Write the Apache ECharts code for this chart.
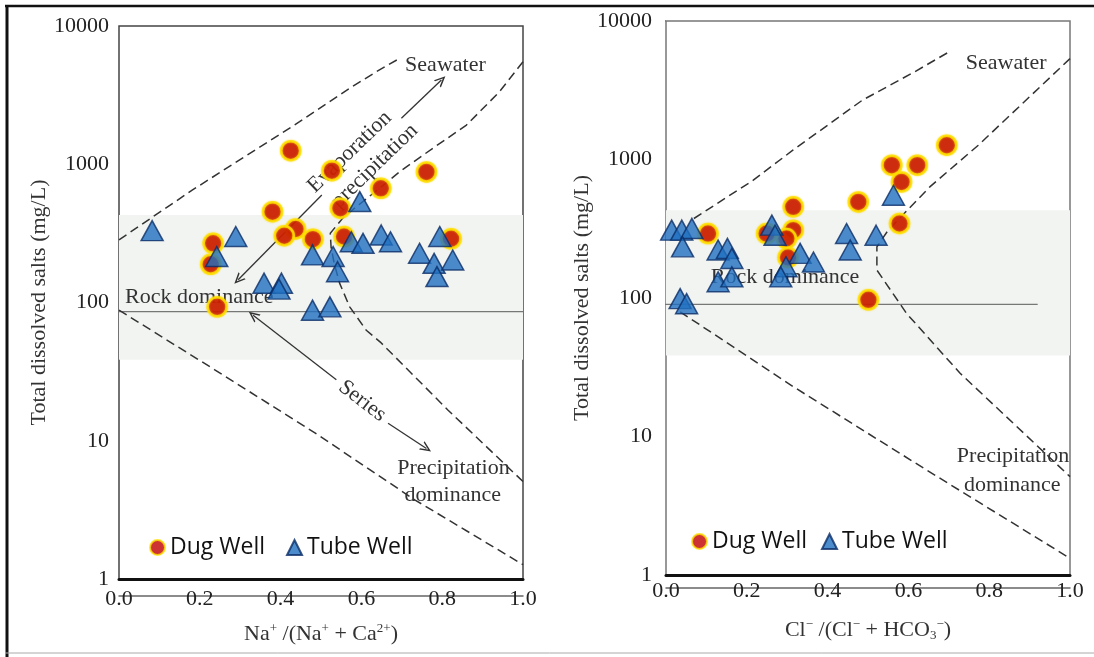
<!DOCTYPE html>
<html>
<head>
<meta charset="utf-8">
<script src="https://cdn.jsdelivr.net/npm/echarts@6/dist/echarts.min.js"></script>
<style>
html,body{margin:0;padding:0;background:#fff}
#main{width:1094px;height:657px}
</style>
</head>
<body>
<div id="main"></div>
<script>
// Gibbs plot, left: Na+/(Na+ + Ca2+), right: Cl-/(Cl- + HCO3-)
var xTicks = [0, 0.2, 0.4, 0.6, 0.8, 1.0];
var yTicks = [1, 10, 100, 1000, 10000];

// dug wells (circles)
var dugNaX = [0.425, 0.380, 0.437, 0.409, 0.480, 0.233, 0.227, 0.243, 0.527, 0.648, 0.761, 0.548, 0.557, 0.822];
var dugNaY = [1254, 454, 340, 304, 287, 268, 189, 93, 899, 670, 880, 481, 300, 289];
var dugClX = [0.104, 0.315, 0.249, 0.315, 0.298, 0.302, 0.695, 0.559, 0.622, 0.583, 0.476, 0.578, 0.501];
var dugClY = [292, 455, 292, 309, 269, 196, 1268, 910, 910, 689, 494, 345, 97];

// tube wells (triangles)
var tubeNaX = [0.082, 0.289, 0.242, 0.359, 0.402, 0.396, 0.479, 0.479, 0.596, 0.575, 0.604, 0.649, 0.672, 0.530, 0.541, 0.744, 0.794, 0.780, 0.826, 0.787, 0.522];
var tubeNaY = [331, 300, 215, 138, 138, 125, 221, 88, 537, 275, 268, 308, 275, 215, 167, 227, 300, 192, 203, 154, 93];
var tubeClX = [0.014, 0.039, 0.064, 0.041, 0.129, 0.152, 0.163, 0.129, 0.163, 0.035, 0.051, 0.262, 0.270, 0.332, 0.365, 0.297, 0.284, 0.447, 0.456, 0.520, 0.563];
var tubeClY = [309, 309, 318, 234, 222, 228, 193, 131, 142, 99, 91, 336, 284, 210, 182, 168, 142, 292, 222, 284, 552];

// Gibbs boundary curves
var naUpper = [[0, 284], [0.182, 652], [0.447, 2030], [0.571, 3550], [0.637, 4670], [0.695, 5840]];
var naRight = [[1.0, 5520], [0.942, 3350], [0.86, 1920], [0.777, 1306], [0.695, 884], [0.645, 670], [0.557, 418], [0.523, 317],
               [0.525, 250], [0.533, 190], [0.546, 138], [0.571, 93], [0.612, 63], [0.649, 51], [0.814, 16.7], [1.0, 5.07]];
var naLower = [[0, 88], [0.237, 32.6], [0.485, 11.4], [0.732, 3.74], [1.0, 1.27]];
var clUpper = [[0.069, 375], [0.216, 709], [0.314, 1167], [0.486, 2680], [0.615, 4290], [0.700, 5970]];
var clRight = [[1.0, 5350], [0.773, 1268], [0.653, 634], [0.550, 309], [0.522, 234], [0.522, 159], [0.596, 77], [0.728, 28.6], [1.0, 5.13]];
var clLower = [[0.035, 79.5], [0.315, 22.9], [0.645, 5.73], [1.0, 1.32]];

// rock dominance line and shaded band
var naRockLine = [[0, 86], [1, 86]];
var clRockLine = [[-0.045, 90], [0.92, 90]];
var clTopTick = [[-0.04, 10000], [0, 10000]];
var bandRange = [38.5, 430];

function pts(xs, ys) {
    return xs.map(function (x, i) { return [x, ys[i]]; });
}

var serif = 'Liberation Serif';
var arrowHead = 'path://M0,10 L5,0 L10,10 L8.4,10 L5,3.2 L1.6,10 Z';

var dugStyle = {color: '#c00000', borderColor: '#ffe100', borderWidth: 2.5, shadowBlur: 2, shadowColor: 'rgba(255,215,0,0.9)'};
var tubeStyle = {color: '#1f6fc0', borderColor: '#0b2d66', borderWidth: 1.5};
var dashStyle = {color: '#333', width: 1.5, type: [9, 5]};

function textPt(x, y, text, rotate, align) {
    return {
        coord: [x, y],
        label: {formatter: text, rotate: rotate || 0, position: align === 'left' ? 'right' : 'inside', distance: 0}
    };
}

function helper(xi, yi, arrows, texts) {
    return {
        type: 'line', xAxisIndex: xi, yAxisIndex: yi, data: [], z: 1, silent: true,
        markArea: {
            silent: true,
            itemStyle: {color: '#f2f4f2'},
            data: [[{coord: [0, bandRange[0]]}, {coord: [1, bandRange[1]]}]]
        },
        markLine: {
            silent: true, symbol: ['none', 'none'],
            lineStyle: {color: '#333', width: 1.3, type: 'solid'},
            label: {show: false},
            data: arrows
        },
        markPoint: {
            silent: true, symbol: 'circle', symbolSize: 0,
            label: {show: true, fontFamily: serif, fontSize: 22, color: '#333'},
            data: texts
        }
    };
}

function arrow(a, b, headAtStart) {
    return [
        {coord: a, symbol: headAtStart ? arrowHead : 'none', symbolSize: [10, 11]},
        {coord: b, symbol: headAtStart ? 'none' : arrowHead, symbolSize: [10, 11]}
    ];
}

function lineSeries(xi, yi, data, style, clip) {
    return {type: 'line', xAxisIndex: xi, yAxisIndex: yi, data: data, symbol: 'none', z: 2,
            lineStyle: style, clip: clip !== false, silent: true};
}

function scatter(name, xi, yi, data, symbol, size, style) {
    return {name: name, type: 'scatter', xAxisIndex: xi, yAxisIndex: yi, data: data,
            symbol: symbol, symbolSize: size, itemStyle: style, z: 10};
}

var naArrows = [
    arrow([0.295, 146], [0.502, 600], true),
    arrow([0.699, 2150], [0.798, 4070], false),
    arrow([0.332, 81], [0.538, 27.6], true),
    arrow([0.666, 13.4], [0.761, 8.8], false)
];
var naTexts = [
    textPt(0.808, 5224, 'Seawater'),
    textPt(0.571, 1227, 'Evaporation', 44),
    textPt(0.633, 972, 'precipitation', 44),
    textPt(0.015, 110, 'Rock dominance', 0, 'left'),
    textPt(0.602, 19.4, 'Series', -37.6),
    textPt(0.828, 6.34, 'Precipitation'),
    textPt(0.826, 4.06, 'dominance')
];
var clTexts = [
    textPt(0.842, 4930, 'Seawater'),
    textPt(0.111, 142, 'Rock dominance', 0, 'left'),
    textPt(0.859, 7.15, 'Precipitation'),
    textPt(0.857, 4.47, 'dominance')
];

var tickFont = {fontFamily: serif, fontSize: 22, color: '#222'};

function xAxisLabels(gi, offset, name, gap) {
    return {
        type: 'value', gridIndex: gi, min: 0, max: 1, interval: 0.2, position: 'bottom', offset: offset,
        axisLine: {show: true, lineStyle: {color: '#666', width: 1.5}},
        axisTick: {show: false}, splitLine: {show: false},
        axisLabel: Object.assign({margin: -8, formatter: function (v) { return v.toFixed(1); }}, tickFont),
        name: name, nameLocation: 'middle', nameGap: gap,
        nameTextStyle: {
            fontFamily: serif, fontSize: 22, color: '#333',
            rich: {
                n: {fontFamily: serif, fontSize: 22, color: '#333'},
                s: {fontFamily: serif, fontSize: 13, color: '#333', padding: [0, 0, 12, 0]},
                b: {fontFamily: serif, fontSize: 13, color: '#333', padding: [10, 0, 0, 0]}
            }
        }
    };
}

function xAxisBorder(gi) {
    return {
        type: 'value', gridIndex: gi, min: 0, max: 1, position: 'bottom',
        axisLine: {show: true, lineStyle: {color: '#111', width: 3}},
        axisTick: {show: false}, axisLabel: {show: false}, splitLine: {show: false}
    };
}

function yAxisLog(gi, margin, gap) {
    return {
        type: 'log', logBase: 10, gridIndex: gi, min: 1, max: 10000,
        axisLine: {show: false}, axisTick: {show: false}, splitLine: {show: false},
        axisLabel: Object.assign({margin: margin, formatter: function (v) { return String(v); }}, tickFont),
        name: 'Total dissolved salts (mg/L)', nameLocation: 'middle', nameGap: gap,
        nameTextStyle: {fontFamily: serif, fontSize: 22, color: '#333'}
    };
}

var legendData = [{name: 'Dug Well', icon: 'circle'}, {name: 'Tube Well', icon: 'triangle'}];
var legendText = {fontFamily: 'Open Sans', fontSize: 23, color: '#111'};

var option = {
    animation: false,
    backgroundColor: '#fff',
    grid: [
        {left: 119, top: 26, width: 404, height: 553, show: true, borderColor: '#444', borderWidth: 1.5, backgroundColor: 'transparent'},
        {left: 666, top: 21, width: 404, height: 554, show: true, borderColor: '#777', borderWidth: 1.5, backgroundColor: 'transparent'}
    ],
    xAxis: [
        xAxisLabels(0, 17, '{n|Na}{s|+}{n| /(Na}{s|+}{n| + Ca}{s|2+}{n|)}', 26),
        xAxisBorder(0),
        xAxisLabels(1, 13, '{n|Cl}{s|\u2212}{n| /(Cl}{s|\u2212}{n| + HCO}{b|3}{s|\u2212}{n|)}', 30),
        xAxisBorder(1)
    ],
    yAxis: [yAxisLog(0, 10, 65), yAxisLog(1, 14, 64)],
    legend: [
        {left: 144, top: 531, itemWidth: 15, itemHeight: 15, itemGap: 21, selectedMode: false,
         textStyle: legendText, data: legendData},
        {left: 686, top: 525, itemWidth: 15, itemHeight: 15, itemGap: 14, selectedMode: false,
         textStyle: legendText, data: legendData}
    ],
    graphic: [
        {type: 'line', shape: {x1: 7, y1: 5, x2: 7, y2: 657}, style: {stroke: '#111', lineWidth: 3}},
        {type: 'line', shape: {x1: 5, y1: 6, x2: 1094, y2: 6}, style: {stroke: '#111', lineWidth: 2.5}},
        {type: 'line', shape: {x1: 5, y1: 653, x2: 1094, y2: 653}, style: {stroke: '#aaa', lineWidth: 1}}
    ],
    series: [
        helper(0, 0, naArrows, naTexts),
        lineSeries(0, 0, naRockLine, {color: '#777', width: 1.3}),
        lineSeries(0, 0, naUpper, dashStyle),
        lineSeries(0, 0, naRight, dashStyle),
        lineSeries(0, 0, naLower, dashStyle),
        scatter('Dug Well', 0, 0, pts(dugNaX, dugNaY), 'circle', 19, dugStyle),
        scatter('Tube Well', 0, 0, pts(tubeNaX, tubeNaY), 'triangle', [22, 20], tubeStyle),

        helper(2, 1, [], clTexts),
        lineSeries(2, 1, clRockLine, {color: '#777', width: 1.3}, false),
        lineSeries(2, 1, clTopTick, {color: '#777', width: 1.3}, false),
        lineSeries(2, 1, clUpper, dashStyle),
        lineSeries(2, 1, clRight, dashStyle),
        lineSeries(2, 1, clLower, dashStyle),
        scatter('Dug Well', 2, 1, pts(dugClX, dugClY), 'circle', 19, dugStyle),
        scatter('Tube Well', 2, 1, pts(tubeClX, tubeClY), 'triangle', [22, 20], tubeStyle)
    ]
};

var myChart = echarts.init(document.getElementById('main'));
myChart.setOption(option);
</script>
</body>
</html>
